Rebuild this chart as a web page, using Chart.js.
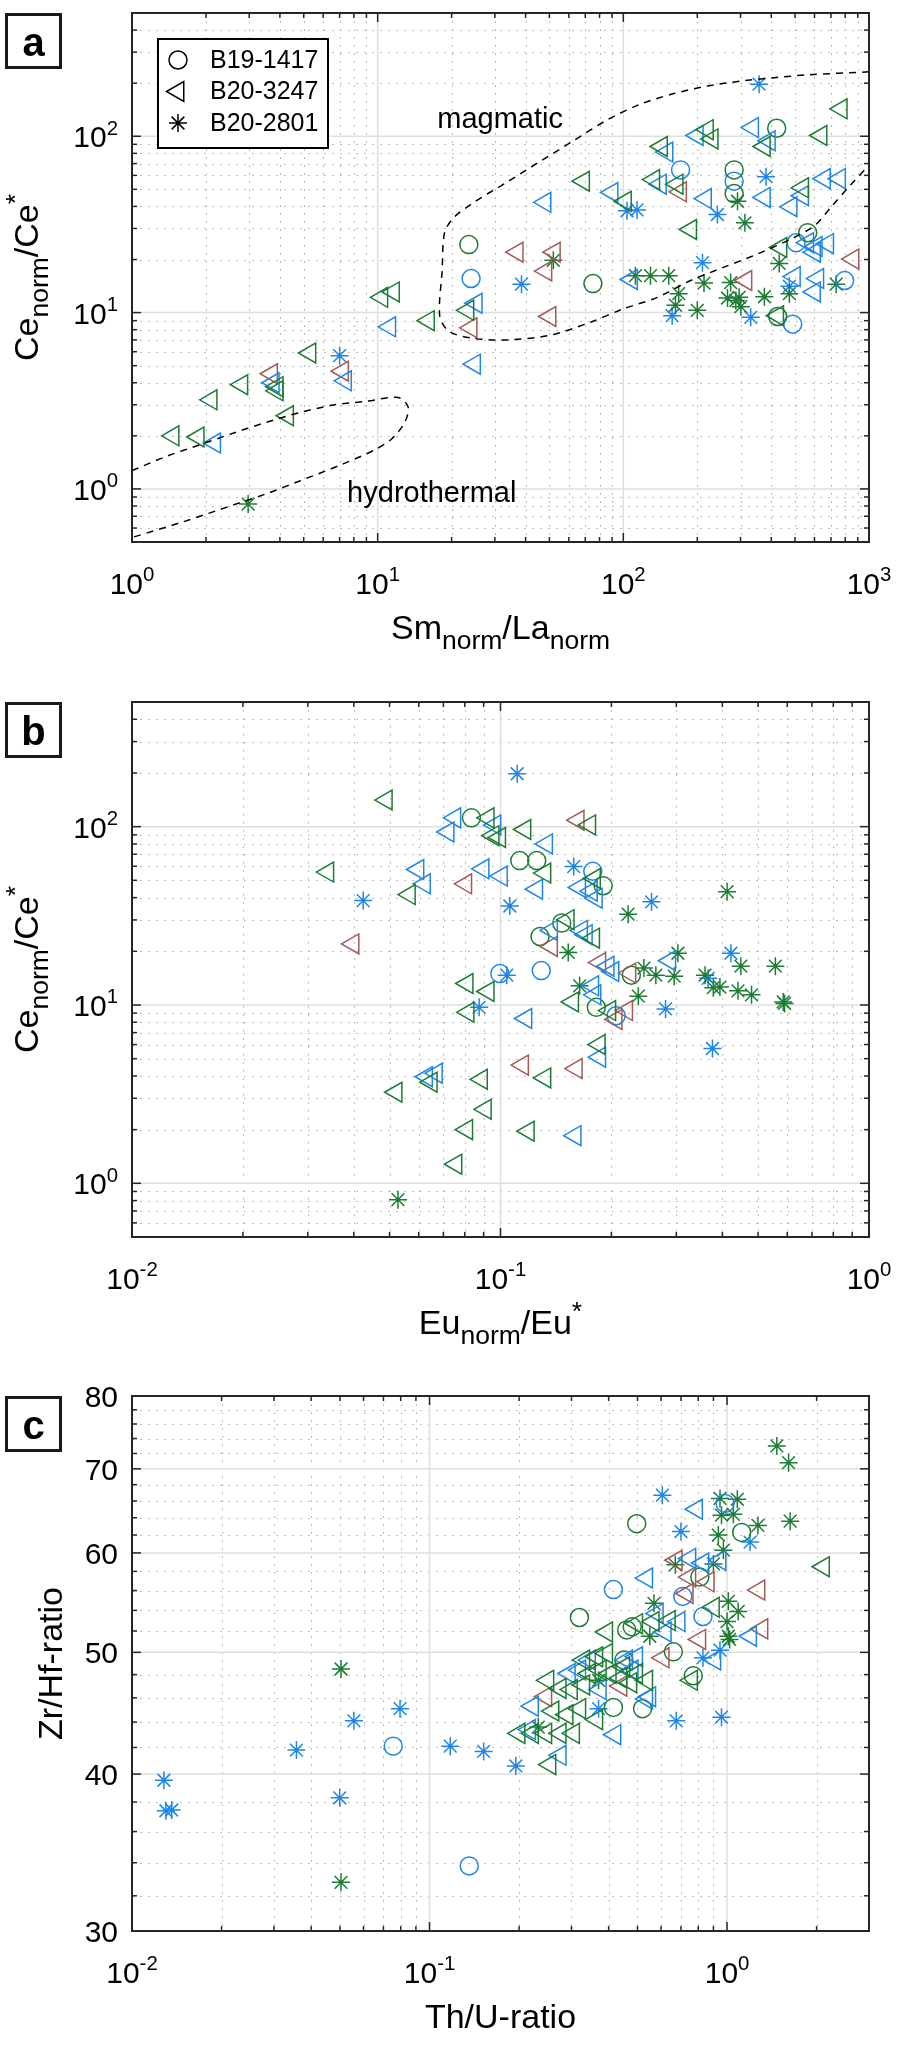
<!DOCTYPE html>
<html>
<head>
<meta charset="utf-8">
<script src="https://cdn.jsdelivr.net/npm/chart.js@4.4.0/dist/chart.umd.min.js"></script>
<style>
  html, body { margin: 0; padding: 0; background: #fff; }
  #wrap { position: relative; width: 898px; height: 2045px; }
  canvas { position: absolute; left: 0; }
</style>
</head>
<body>
<div id="wrap">
  <canvas id="panel-a" width="898" height="682" style="top:0px"></canvas>
  <canvas id="panel-b" width="898" height="690" style="top:682px"></canvas>
  <canvas id="panel-c" width="898" height="673" style="top:1372px"></canvas>
</div>
<script>
// ---- data: [x, y] pairs per sample marker / colour ----
const LEGEND_LABELS = ['B19-1417', 'B20-3247', 'B20-2801'];

// (a) Sm/La vs Ce anomaly
const A_CIRCLE_GREEN = [[23.5,24.3],[75.2,14.6],[282.5,64.4],[282.5,47.3],[421,111],[425,9.5],[563,28.4]];
const A_CIRCLE_BLUE = [[24,15.6],[171,64.4],[282.5,55.6],[489,8.6],[505,24.9],[796,15.2]];
const A_TRI_GREEN = [[10.4,12.2],[11.6,13.1],[16.1,9.0],[5.3,5.9],[3.9,3.8],[3.9,3.6],[2.8,3.9],[2.1,3.2],[4.3,2.6],[1.47,2.0],[1.86,1.97],
  [23.3,10.3],[68.9,55.6],[102,42.8],[143,87.5],[133,56.8],[165.6,53.5],[188,29.6],[220,109],[230,96.6],[375,87.5],[425,9.6],[537,51],[638,101],[771,143],[438,23.4]];
const A_TRI_BLUE = [[11.2,8.3],[7.4,4.1],[3.76,4.0],[2.17,1.82],[25.2,11.3],[24.8,5.1],[48,42.2],[90,48],[108,15.4],[150.6,81.3],[141.6,53.5],
  [200,101],[216,44.3],[336,112],[393,94.3],[375,45],[497,16],[482,39.8],[537,46],[659,57.5],[759,57.5],[563,24.9],[610,23.7],[679,24.6],[600,22],[619,15.6],[600,13.1]];
const A_TRI_BROWN = [[7.2,4.65],[3.7,4.5],[24,8.2],[37,22],[52.4,22],[48.4,17.2],[50.3,9.5],[171,48.4],[315.5,15.2],[861,20.1]];
const A_STAR_GREEN = [[2.97,0.82],[51.9,19.8],[112,16.2],[129,16.2],[153,16.2],[168,12.8],[163,11.0],[200,10.3],[213,14.7],[291.6,42.8],[312.5,32.3],
  [273.5,14.8],[265.5,12.1],[287,11.7],[300.8,10.8],[296,12.2],[375,12.3],[431,19],[474,12.8],[735,14.5]];
const A_STAR_BLUE = [[7.0,5.7],[38.5,14.5],[103.5,37.8],[113.7,38.2],[210,19.2],[158,9.6],[241.5,36],[330,9.4],[357,197.5],[381,59],[474,14.1]];
// field outlines (dashed)
const MAGMATIC_FIELD = [[1000,232],[563,223],[411,214.8],[300.6,205.6],[220,192.7],[160.5,174.6],[117.3,152],[85.8,123.6],[62.7,94.3],[45.8,71.9],
  [33.5,54.8],[24.4,41.8],[20.3,34.3],[18.7,28.2],[18.3,17.2],[17.9,9.5],[19.6,7.8],[24.4,7.15],[33.5,7.0],[50.4,7.44],[73.3,8.8],[100,10.5],
  [137.5,12.2],[188,15.2],[257,18.1],[352,21.5],[482,26.2],[600,31.1],[702,39.8],[847,53.5],[1000,68.4]];
const HYDROTHERMAL_FIELD = [[1,1.27],[1.38,1.53],[1.89,1.78],[2.58,2.07],[3.53,2.39],[4.82,2.71],[6.6,2.99],[9.0,3.14],[12.1,3.30],[13.3,2.92],
  [12.9,2.39],[11.4,1.92],[9.6,1.65],[7.0,1.36],[4.82,1.11],[3.53,0.94],[2.58,0.81],[1.61,0.65],[1,0.53]];

// (b) Eu anomaly vs Ce anomaly
const B_CIRCLE_GREEN = [[0.0834,112],[0.1128,64.5],[0.1254,64.5],[0.190,46.6],[0.1466,28.8],[0.128,24.2],[0.2265,14.7],[0.182,9.7]];
const B_CIRCLE_BLUE = [[0.178,56.2],[0.0996,15],[0.129,15.6],[0.206,8.7]];
const B_TRI_GREEN = [[0.049,141],[0.034,55.6],[0.0566,41.6],[0.0521,3.24],[0.0649,3.69],[0.0926,112],[0.0955,89],[0.0995,87],[0.1165,96.4],
  [0.1747,102.3],[0.132,54.9],[0.180,51.2],[0.1527,30.1],[0.179,23.7],[0.0812,13.2],[0.0926,11.9],[0.157,10.4],[0.198,9.3],[0.0817,9.1],
  [0.1854,6.0],[0.132,3.9],[0.0888,3.83],[0.091,2.6],[0.081,2.0],[0.119,1.96],[0.0757,1.28]];
const B_TRI_BLUE = [[0.0597,57.5],[0.0622,47.8],[0.063,3.96],[0.067,4.14],[0.0752,112],[0.0966,102],[0.0721,93.3],[0.1334,80],[0.0897,58],
  [0.1006,52.8],[0.1254,44.6],[0.164,45.6],[0.1765,43.5],[0.182,39.7],[0.1376,26.2],[0.166,26.2],[0.171,24.8],[0.196,16.5],[0.202,15.4],
  [0.288,17.7],[0.178,12.8],[0.1805,11.4],[0.1172,8.4],[0.186,5.1],[0.1595,1.85]];
const B_TRI_BROWN = [[0.0398,22],[0.1625,108.7],[0.0805,47.8],[0.1376,21.3],[0.186,17.3],[0.2245,15.1],[0.22,9.3],[0.206,8.3],[0.1148,4.6],[0.1606,4.4]];
const B_STAR_GREEN = [[0.0527,0.81],[0.222,32.3],[0.412,43.2],[0.1527,19.7],[0.245,16.1],[0.264,14.7],[0.296,14.5],[0.303,19.5],[0.359,14.7],
  [0.378,12.5],[0.394,12.6],[0.449,16.5],[0.441,12.0],[0.48,11.4],[0.557,16.5],[0.585,10.4],[0.59,10.2],[0.164,12.8],[0.2366,11.2]];
const B_STAR_BLUE = [[0.0424,38.5],[0.111,198],[0.106,35.9],[0.158,59.7],[0.257,37.9],[0.366,14.1],[0.422,19.5],[0.104,14.7],[0.2805,9.5],[0.376,5.7],[0.0875,9.7]];

// (c) Th/U vs Zr/Hf
const C_CIRCLE_GREEN = [[0.497,63.3],[1.12,62.3],[0.81,57.4],[0.319,53.3],[0.46,52.1],[0.48,52.4],[0.66,50.05],[0.77,47.9],[0.52,45.1],[0.415,45.2],[0.45,49.3]];
const C_CIRCLE_BLUE = [[0.985,65.7],[0.415,56.1],[0.71,55.4],[0.83,53.4],[0.0755,42.1],[0.136,33.8]];
const C_TRI_GREEN = [[2.11,58.5],[0.90,54.3],[0.394,51.9],[0.497,52.7],[0.565,52.9],[0.64,53],[0.76,47.5],[0.254,40.7],[0.2,43.1],[0.222,43.1],
  [0.246,43.1],[0.275,43.1],[0.305,43.1],[0.25,47.5],[0.275,46.8],[0.30,46.7],[0.33,47.1],[0.345,48.1],[0.375,48.4],[0.405,48.1],[0.44,47.7],
  [0.475,47.3],[0.365,49.6],[0.33,49.3],[0.394,49.9],[0.45,48.7],[0.497,48.1],[0.537,47.5],[0.26,44.9],[0.29,44.6],[0.32,45.1],[0.365,44.2]];
const C_TRI_BLUE = [[0.79,65.0],[0.75,59.4],[0.83,58.9],[0.947,59.2],[0.537,57.3],[1.2,51.5],[0.583,53.7],[0.62,51.9],[0.69,52.9],[0.91,49.3],
  [0.275,41.4],[0.42,43],[0.222,45.3],[0.537,45.9],[0.32,48.4],[0.46,49.3],[0.48,48.4],[0.497,49.6],[0.55,46.1],[0.375,46.7],[0.295,48.1],[0.345,49.3],[0.217,43.4]];
const C_TRI_BROWN = [[0.675,59.2],[0.75,57.4],[0.865,56.9],[1.28,56.05],[0.735,55.7],[1.31,52.2],[0.81,51.2],[0.61,49.5],[0.246,46.1],[0.44,47.0]];
const C_STAR_GREEN = [[0.0504,48.5],[0.0504,32.8],[1.47,73],[1.61,70.8],[0.947,66.3],[1.083,66.2],[0.958,64.3],[1.05,64.4],[0.935,62],[1.27,63.1],
  [1.63,63.6],[0.972,60.3],[0.67,58.7],[0.90,58.8],[0.568,54.7],[1.01,54.9],[1.09,53.9],[1.0,52.9],[1.01,51.5],[1.02,51.2],[0.55,51.5],[0.232,43.6],[0.37,47.5]];
const C_STAR_BLUE = [[0.0128,39.55],[0.013,37.4],[0.0136,37.45],[0.0357,41.8],[0.0499,38.3],[0.0557,44.1],[0.0796,45.1],[0.1174,42.1],[0.152,41.7],
  [0.195,40.6],[0.37,45.1],[0.606,66.7],[0.70,62.4],[1.195,61.2],[0.83,49.5],[0.947,50.2],[0.675,44.1],[0.958,44.4]];

// ticks
const A_X_TICKS = [1, 10, 100, 1000];       const A_X_LABELS = ['10^{0}', '10^{1}', '10^{2}', '10^{3}'];
const CE_Y_TICKS = [1, 10, 100];             const CE_Y_LABELS = ['10^{0}', '10^{1}', '10^{2}'];
const BC_X_TICKS = [0.01, 0.1, 1];           const BC_X_LABELS = ['10^{-2}', '10^{-1}', '10^{0}'];
const C_Y_TICKS = [30, 40, 50, 60, 70, 80];  const C_Y_LABELS = ['30', '40', '50', '60', '70', '80'];

// ---- styling ----
const FONT = '"Liberation Sans", Arial, Helvetica, sans-serif';
const AXIS = '#262626';
const GREEN = '#1c7c34';
const BLUE = '#1e86e6';
const BROWN = '#a35a55';
const RADIUS = { circle: 9, triangle: 11.5, star: 9 };

function logMinors(min, max) {
  const out = [];
  for (let e = Math.floor(Math.log10(min)); e <= Math.ceil(Math.log10(max)); e++) {
    for (let k = 2; k <= 9; k++) {
      const v = k * Math.pow(10, e);
      if (v > min * 1.0001 && v < max * 0.9999) out.push(v);
    }
  }
  return out;
}

function series(pts, style, color) {
  return {
    data: pts.map(([x, y]) => ({ x, y })),
    pointStyle: style,
    pointRotation: style === 'triangle' ? -90 : 0,
    pointRadius: RADIUS[style],
    pointHoverRadius: RADIUS[style],
    pointBorderWidth: 1.5,
    borderColor: color,
    backgroundColor: 'rgba(0,0,0,0)',
    showLine: false
  };
}

function field(pts) {
  return {
    data: pts.map(([x, y]) => ({ x, y })),
    showLine: true, borderColor: '#000', borderWidth: 1.5, borderDash: [7, 6],
    pointRadius: 0, tension: 0.3, fill: false
  };
}

function parseRich(str) {
  const parts = [];
  let i = 0;
  while (i < str.length) {
    const c = str[i];
    if (c === '_' || c === '^') {
      const j = str.indexOf('}', i);
      parts.push({ t: str.slice(i + 2, j), s: c === '_' ? -1 : 1 });
      i = j + 1;
    } else {
      let j = i;
      while (j < str.length && str[j] !== '_' && str[j] !== '^') j++;
      parts.push({ t: str.slice(i, j), s: 0 });
      i = j;
    }
  }
  return parts;
}

function drawRich(ctx, str, x, y, size, align, ratio) {
  const parts = parseRich(str);
  const small = size * (ratio || 0.72);
  let w = 0;
  parts.forEach(p => { ctx.font = `${p.s ? small : size}px ${FONT}`; p.w = ctx.measureText(p.t).width; w += p.w; });
  let cx = align === 'center' ? x - w / 2 : align === 'right' ? x - w : x;
  ctx.textAlign = 'left';
  ctx.textBaseline = 'alphabetic';
  parts.forEach(p => {
    ctx.font = `${p.s ? small : size}px ${FONT}`;
    const dy = p.s < 0 ? size * 0.3 : p.s > 0 ? -size * 0.42 : 0;
    ctx.fillText(p.t, cx, y + dy);
    cx += p.w;
  });
}

function line(ctx, x1, y1, x2, y2) {
  ctx.beginPath(); ctx.moveTo(x1, y1); ctx.lineTo(x2, y2); ctx.stroke();
}

function axesPlugin(cfg) {
  return {
    id: 'matlabAxes',
    beforeDatasetsDraw(chart) {
      const { ctx, chartArea: a, scales: { x, y } } = chart;
      ctx.save();
      ctx.lineWidth = 1;
      ctx.strokeStyle = '#bcbcbc';
      ctx.setLineDash([2, 6]);
      cfg.xMinor.forEach(v => { const p = Math.round(x.getPixelForValue(v)) + 0.5; line(ctx, p, a.top, p, a.bottom); });
      cfg.yMinor.forEach(v => { const p = Math.round(y.getPixelForValue(v)) + 0.5; line(ctx, a.left, p, a.right, p); });
      ctx.setLineDash([]);
      ctx.strokeStyle = '#dedede';
      ctx.lineWidth = 1.5;
      cfg.xTicks.forEach(v => { const p = x.getPixelForValue(v); line(ctx, p, a.top, p, a.bottom); });
      cfg.yTicks.forEach(v => { const p = y.getPixelForValue(v); line(ctx, a.left, p, a.right, p); });
      ctx.restore();
    },
    afterDatasetsDraw(chart) {
      const { ctx, chartArea: a, scales: { x, y } } = chart;
      ctx.save();
      // ticks inside the box, all four sides
      ctx.strokeStyle = AXIS;
      ctx.lineWidth = 1.5;
      const tx = (v, len) => { const p = x.getPixelForValue(v); line(ctx, p, a.bottom, p, a.bottom - len); line(ctx, p, a.top, p, a.top + len); };
      const ty = (v, len) => { const p = y.getPixelForValue(v); line(ctx, a.left, p, a.left + len, p); line(ctx, a.right, p, a.right - len, p); };
      cfg.xMinor.forEach(v => tx(v, 5));
      cfg.yMinor.forEach(v => ty(v, 5));
      cfg.xTicks.forEach(v => tx(v, 9));
      cfg.yTicks.forEach(v => ty(v, 9));
      ctx.lineWidth = 2;
      ctx.strokeRect(a.left, a.top, a.right - a.left, a.bottom - a.top);

      // tick labels
      ctx.fillStyle = '#000';
      cfg.xTicks.forEach((v, i) => drawRich(ctx, cfg.xLabels[i], x.getPixelForValue(v), a.bottom + 52, 30, 'center', 0.68));
      cfg.yTicks.forEach((v, i) => drawRich(ctx, cfg.yLabels[i], a.left - 14, y.getPixelForValue(v) + 11, 30, 'right', 0.68));

      // axis titles
      drawRich(ctx, cfg.xTitle, (a.left + a.right) / 2, a.bottom + 97, 34, 'center', 0.78);
      ctx.save();
      ctx.translate(cfg.yTitleX, (a.top + a.bottom) / 2);
      ctx.rotate(-Math.PI / 2);
      drawRich(ctx, cfg.yTitle, 0, 0, 34, 'center', 0.78);
      ctx.restore();

      // panel letter
      ctx.strokeStyle = '#1a1a1a';
      ctx.lineWidth = 3;
      ctx.strokeRect(6.5, a.top + 1.5, 54, 53);
      ctx.font = `bold 40px ${FONT}`;
      ctx.textAlign = 'center';
      ctx.textBaseline = 'alphabetic';
      ctx.fillText(cfg.letter, 33.5, a.top + 43);

      // field names
      (cfg.notes || []).forEach(n => {
        ctx.font = `29px ${FONT}`;
        ctx.textAlign = 'center';
        ctx.textBaseline = 'middle';
        ctx.fillText(n.text, x.getPixelForValue(n.x), y.getPixelForValue(n.y));
      });

      // legend
      if (cfg.legend) {
        const lx = a.left + 26, ly = a.top + 26;
        ctx.fillStyle = '#fff';
        ctx.fillRect(lx, ly, 170, 109);
        ctx.strokeStyle = '#000';
        ctx.lineWidth = 2;
        ctx.strokeRect(lx, ly, 170, 109);
        const styles = ['circle', 'triangle', 'star'];
        LEGEND_LABELS.forEach((lab, i) => {
          const ry = ly + 21 + i * 31.5;
          ctx.strokeStyle = '#000';
          ctx.fillStyle = 'rgba(0,0,0,0)';
          ctx.lineWidth = 1.5;
          Chart.helpers.drawPoint(ctx, { pointStyle: styles[i], rotation: styles[i] === 'triangle' ? -90 : 0, radius: RADIUS[styles[i]], borderWidth: 1.5 }, lx + 20, ry);
          ctx.fillStyle = '#000';
          ctx.font = `25px ${FONT}`;
          ctx.textAlign = 'left';
          ctx.textBaseline = 'middle';
          ctx.fillText(lab, lx + 52, ry + 1);
        });
      }
      ctx.restore();
    }
  };
}

function makePanel(id, cfg) {
  return new Chart(document.getElementById(id), {
    type: 'scatter',
    data: { datasets: cfg.datasets },
    options: {
      responsive: false, animation: false, events: [], devicePixelRatio: 1,
      layout: { padding: { left: 132, right: 29, top: cfg.padTop, bottom: cfg.padBottom } },
      scales: {
        x: { type: 'logarithmic', display: false, min: cfg.xMin, max: cfg.xMax },
        y: { type: 'logarithmic', display: false, min: cfg.yMin, max: cfg.yMax }
      },
      plugins: { legend: { display: false }, tooltip: { enabled: false } }
    },
    plugins: [axesPlugin(cfg)]
  });
}

const cMinorY = [];
for (let v = 32; v < 80; v += 2) if (v % 10 !== 0) cMinorY.push(v);

makePanel('panel-a', {
  letter: 'a', padTop: 7, padBottom: 140, xMin: 1, xMax: 1000, yMin: 0.5, yMax: 500,
  xTicks: A_X_TICKS, xLabels: A_X_LABELS, yTicks: CE_Y_TICKS, yLabels: CE_Y_LABELS,
  xMinor: logMinors(1, 1000), yMinor: logMinors(0.5, 500),
  xTitle: 'Sm_{norm}/La_{norm}', yTitle: 'Ce_{norm}/Ce^{*}', yTitleX: 38, legend: true,
  notes: [{ text: 'magmatic', x: 31.5, y: 124 }, { text: 'hydrothermal', x: 16.6, y: 0.94 }],
  datasets: [
    field(MAGMATIC_FIELD), field(HYDROTHERMAL_FIELD),
    series(A_TRI_GREEN, 'triangle', GREEN), series(A_TRI_BLUE, 'triangle', BLUE), series(A_TRI_BROWN, 'triangle', BROWN),
    series(A_CIRCLE_GREEN, 'circle', GREEN), series(A_CIRCLE_BLUE, 'circle', BLUE),
    series(A_STAR_GREEN, 'star', GREEN), series(A_STAR_BLUE, 'star', BLUE)
  ]
});

makePanel('panel-b', {
  letter: 'b', padTop: 20, padBottom: 135, xMin: 0.01, xMax: 1, yMin: 0.5, yMax: 500,
  xTicks: BC_X_TICKS, xLabels: BC_X_LABELS, yTicks: CE_Y_TICKS, yLabels: CE_Y_LABELS,
  xMinor: logMinors(0.01, 1), yMinor: logMinors(0.5, 500),
  xTitle: 'Eu_{norm}/Eu^{*}', yTitle: 'Ce_{norm}/Ce^{*}', yTitleX: 38,
  datasets: [
    series(B_TRI_GREEN, 'triangle', GREEN), series(B_TRI_BLUE, 'triangle', BLUE), series(B_TRI_BROWN, 'triangle', BROWN),
    series(B_CIRCLE_GREEN, 'circle', GREEN), series(B_CIRCLE_BLUE, 'circle', BLUE),
    series(B_STAR_GREEN, 'star', GREEN), series(B_STAR_BLUE, 'star', BLUE)
  ]
});

makePanel('panel-c', {
  letter: 'c', padTop: 24, padBottom: 114, xMin: 0.01, xMax: 3, yMin: 30, yMax: 80,
  xTicks: BC_X_TICKS, xLabels: BC_X_LABELS, yTicks: C_Y_TICKS, yLabels: C_Y_LABELS,
  xMinor: logMinors(0.01, 3), yMinor: cMinorY,
  xTitle: 'Th/U-ratio', yTitle: 'Zr/Hf-ratio', yTitleX: 62,
  datasets: [
    series(C_TRI_GREEN, 'triangle', GREEN), series(C_TRI_BLUE, 'triangle', BLUE), series(C_TRI_BROWN, 'triangle', BROWN),
    series(C_CIRCLE_GREEN, 'circle', GREEN), series(C_CIRCLE_BLUE, 'circle', BLUE),
    series(C_STAR_GREEN, 'star', GREEN), series(C_STAR_BLUE, 'star', BLUE)
  ]
});
</script>
</body>
</html>
